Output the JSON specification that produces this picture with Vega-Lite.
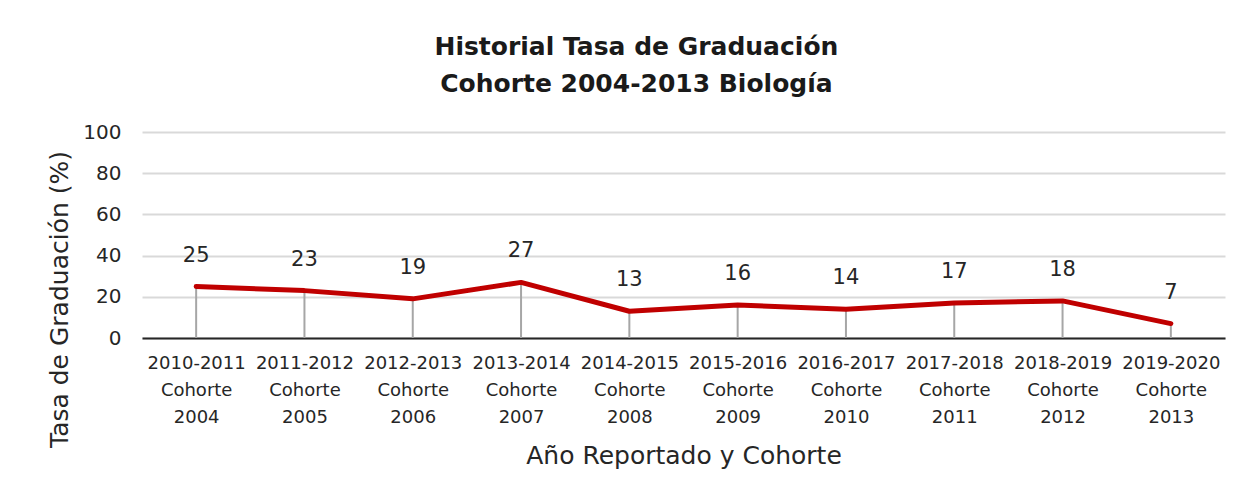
{
  "$schema": "https://vega.github.io/schema/vega-lite/v6.json",
  "width": 1253,
  "height": 500,
  "autosize": {"type": "fit", "contains": "padding"},
  "padding": {"left": 47, "top": 35, "right": 28, "bottom": 32},
  "background": "white",
  "config": {
    "font": "DejaVu Sans",
    "view": {"stroke": null},
    "axis": {"labelFont": "DejaVu Sans", "titleFont": "DejaVu Sans", "labelColor": "#262626", "titleColor": "#262626"}
  },
  "title": {
    "text": ["Historial Tasa de Graduación", "Cohorte 2004-2013 Biología"],
    "fontSize": 25,
    "fontWeight": "bold",
    "color": "#1a1a1a",
    "anchor": "middle",
    "frame": "bounds",
    "lineHeight": 37,
    "offset": 25
  },
  "data": {
    "values": [
      {"cat": "2010-2011|Cohorte|2004", "tasa": 25},
      {"cat": "2011-2012|Cohorte|2005", "tasa": 23},
      {"cat": "2012-2013|Cohorte|2006", "tasa": 19},
      {"cat": "2013-2014|Cohorte|2007", "tasa": 27},
      {"cat": "2014-2015|Cohorte|2008", "tasa": 13},
      {"cat": "2015-2016|Cohorte|2009", "tasa": 16},
      {"cat": "2016-2017|Cohorte|2010", "tasa": 14},
      {"cat": "2017-2018|Cohorte|2011", "tasa": 17},
      {"cat": "2018-2019|Cohorte|2012", "tasa": 18},
      {"cat": "2019-2020|Cohorte|2013", "tasa": 7}
    ]
  },
  "encoding": {
    "x": {
      "field": "cat",
      "type": "nominal",
      "sort": null,
      "scale": {"type": "point", "padding": 0.5},
      "axis": {
        "title": "Año Reportado y Cohorte",
        "titleFontSize": 25,
        "titleFontWeight": "normal",
        "titlePadding": 17,
        "labelExpr": "split(datum.label, '|')",
        "labelFontSize": 18,
        "labelLineHeight": 27,
        "labelAngle": 0,
        "labelPadding": 16,
        "ticks": false,
        "domainColor": "#262626",
        "domainWidth": 2,
        "grid": false
      }
    },
    "y": {
      "field": "tasa",
      "type": "quantitative",
      "scale": {"domain": [0, 100]},
      "axis": {
        "title": "Tasa de Graduación (%)",
        "titleFontSize": 25,
        "titleFontWeight": "normal",
        "titlePadding": 10,
        "titleY": 167,
        "values": [0, 20, 40, 60, 80, 100],
        "labelFontSize": 20,
        "labelPadding": 21,
        "ticks": false,
        "domain": false,
        "gridColor": "#d9d9d9",
        "gridWidth": 2
      }
    }
  },
  "layer": [
    {
      "mark": {"type": "rule", "color": "#a6a6a6", "strokeWidth": 2},
      "encoding": {"y2": {"datum": 0}}
    },
    {
      "mark": {"type": "line", "color": "#C00000", "strokeWidth": 5, "strokeCap": "round", "strokeJoin": "round"},
      "encoding": {}
    },
    {
      "mark": {"type": "text", "fontSize": 21, "color": "#262626", "dy": -31, "baseline": "middle"},
      "encoding": {"text": {"field": "tasa", "type": "quantitative"}}
    }
  ]
}
